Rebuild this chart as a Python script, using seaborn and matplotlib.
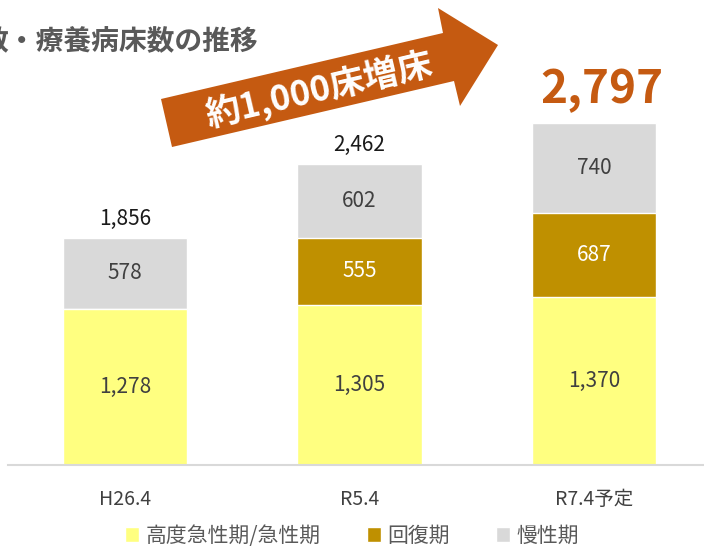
import matplotlib
matplotlib.use("Agg")
import matplotlib.pyplot as plt
from matplotlib.patches import Polygon
import seaborn as sns
import numpy as np

categories = ["H26.4", "R5.4", "R7.4予定"]
acute = [1278, 1305, 1370]
recovery = [0, 555, 687]
chronic = [578, 602, 740]
series_names = ["高度急性期/急性期", "回復期", "慢性期"]
title_text = "数・療養病床数の推移"
arrow_text = "約1,000床増床"

c_acute = "#FFFF80"
c_rec = "#BF9000"
c_chr = "#D9D9D9"
c_orange = "#C55A11"

sns.set_theme(style="white")
plt.rcParams['font.family'] = ['Noto Sans CJK JP', 'DejaVu Sans']

W, H = 704, 547
fig = plt.figure(figsize=(W/100, H/100), dpi=100)
ax = fig.add_axes([8/W, 82/H, 703/W, 465/H])

acute_a = np.array(acute)
rec_a = np.array(recovery)
chr_a = np.array(chronic)
totals = acute_a + rec_a + chr_a
mid_layer = acute_a + rec_a

bw = 0.53
sns.barplot(x=categories, y=totals, color=c_chr, saturation=1, width=bw, ax=ax, label=series_names[2])
sns.barplot(x=categories, y=mid_layer, color=c_rec, saturation=1, width=bw, ax=ax, label=series_names[1])
sns.barplot(x=categories, y=acute_a, color=c_acute, saturation=1, width=bw, ax=ax, label=series_names[0])
handles, labels = ax.get_legend_handles_labels()
if ax.get_legend() is not None:
    ax.get_legend().remove()

ax.set_xlim(-0.5, 2.5)
ax.set_ylim(0, 3802)
ax.set_yticks([])
ax.set_ylabel("")
for s in ["top", "right", "left"]:
    ax.spines[s].set_visible(False)
ax.spines["bottom"].set_color("#D9D9D9")
ax.spines["bottom"].set_linewidth(1.5)
ax.tick_params(axis="x", length=0, pad=17, labelsize=14, labelcolor="#404040")

# segment labels
for i in range(len(categories)):
    ax.text(i, acute_a[i]/2, f"{acute_a[i]:,}", ha="center", va="center", fontsize=15, color="#404040")
    if rec_a[i] > 0:
        ax.text(i, acute_a[i] + rec_a[i]/2, f"{rec_a[i]:,}", ha="center", va="center", fontsize=15, color="white")
    ax.text(i, mid_layer[i] + chr_a[i]/2, f"{chr_a[i]:,}", ha="center", va="center", fontsize=15, color="#404040")
    if i < len(categories) - 1:
        ax.annotate(f"{totals[i]:,}", (i, totals[i]), xytext=(0, 6), textcoords="offset points",
                    ha="center", va="bottom", fontsize=15, color="#1a1a1a")
    else:
        ax.annotate(f"{totals[i]:,}", (i, totals[i]), xytext=(6, 7), textcoords="offset points",
                    ha="center", va="bottom", fontsize=33, fontweight="bold", color=c_orange)

# arrow decoration
pts = [(161, 99), (443, 33), (438, 8), (498, 45), (460, 106), (454, 81), (172, 147)]
poly = Polygon([(x/W, 1 - y/H) for x, y in pts], closed=True, transform=fig.transFigure,
               facecolor=c_orange, edgecolor="none", zorder=5)
fig.patches.append(poly)
fig.text(319/W, 1 - 89/H, arrow_text, ha="center", va="center", rotation=13.2,
         fontsize=25, fontweight="bold", color="white", zorder=6)

# title (left part cut off by the crop, as in the reference)
fig.text(258/W, 1 - 42/H, title_text, ha="right", va="center", fontsize=20,
         fontweight="bold", color="#595959")

# legend
order = [labels.index(n) for n in series_names]
fig.legend([handles[k] for k in order], [labels[k] for k in order], loc="center",
           bbox_to_anchor=(352/W, 1 - 536/H), ncol=3, frameon=False, fontsize=15,
           handlelength=0.7, handleheight=0.7, handletextpad=0.3, columnspacing=2.2,
           labelcolor="#595959")

fig.savefig("out.png", dpi=100)
